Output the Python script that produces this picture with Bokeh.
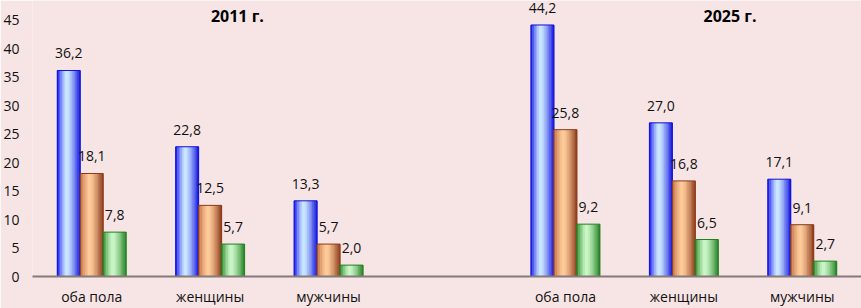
from bokeh.plotting import figure
from bokeh.models import Range1d, FixedTicker, ColumnDataSource
from bokeh.core.properties import value
from bokeh.embed import file_html
from bokeh.resources import INLINE

# ---- data ----
categories = ["оба пола", "женщины", "мужчины"]
years = ["2011 г.", "2025 г."]
series1_2011 = [36.2, 22.8, 13.3]   # blue
series2_2011 = [18.1, 12.5, 5.7]    # orange
series3_2011 = [7.8, 5.7, 2.0]      # green
series1_2025 = [44.2, 27.0, 17.1]
series2_2025 = [25.8, 16.8, 9.1]
series3_2025 = [9.2, 6.5, 2.7]
y_ticks = [0, 5, 10, 15, 20, 25, 30, 35, 40, 45]

data = {
    0: [series1_2011, series2_2011, series3_2011],
    1: [series1_2025, series2_2025, series3_2025],
}

# ---- style ----
BG = "#f7e5e5"
FONT = "Open Sans"
BAR_W = 0.194
OFFSETS = [-BAR_W, 0.0, BAR_W]
# (left dark, light, right dark, outline)
GRADS = [
    ((0x10, 0x10, 0xf0), (0xcc, 0xea, 0xff), (0x10, 0x10, 0xe0), "#1010d0"),
    ((0xc0, 0x6a, 0x40), (0xff, 0xcc, 0x9a), (0x8a, 0x38, 0x18), "#8a3a1a"),
    ((0x2a, 0x8a, 0x2a), (0xcc, 0xf8, 0xc8), (0x22, 0x80, 0x22), "#228022"),
]
N_STRIPS = 14
PEAK = 0.42

def lerp(a, b, t):
    return tuple(int(round(a[i] + (b[i] - a[i]) * t)) for i in range(3))

def hexc(c):
    return "#%02x%02x%02x" % c

p = figure(width=861, height=308, x_range=Range1d(0, 7), y_range=Range1d(0, 48.5),
           output_backend="svg", toolbar_location=None,
           min_border_left=32, min_border_right=0, min_border_top=0, min_border_bottom=30)
p.background_fill_color = BG
p.border_fill_color = BG
p.outline_line_color = None
p.xgrid.grid_line_color = None
p.ygrid.grid_line_color = None

# bars with simulated horizontal gradient
label_x, label_y, label_t = [], [], []
for yi in (0, 1):
    for si, vals in enumerate(data[yi]):
        ldark, light, rdark, outline = GRADS[si]
        centers = [yi * 4 + ci + 0.5 + OFFSETS[si] for ci in range(len(categories))]
        sw = BAR_W / N_STRIPS
        for k in range(N_STRIPS):
            pos = (k + 0.5) / N_STRIPS
            if pos < PEAK:
                t = (PEAK - pos) / PEAK
                col = lerp(light, ldark, t ** 1.4)
            else:
                t = (pos - PEAK) / (1 - PEAK)
                col = lerp(light, rdark, t ** 1.4)
            xs = [c - BAR_W / 2 + (k + 0.5) * sw for c in centers]
            p.vbar(x=xs, top=vals, bottom=0, width=sw * 1.25,
                   fill_color=hexc(col), line_color=None)
        p.vbar(x=centers, top=vals, bottom=0, width=BAR_W,
               fill_color=None, line_color=outline, line_width=1)
        label_x += centers
        label_y += vals
        label_t += [f"{v:.1f}".replace(".", ",") for v in vals]

src = ColumnDataSource(dict(x=label_x, y=label_y, t=label_t))
p.text(x="x", y="y", text="t", source=src, text_align="center", text_baseline="middle",
       y_offset=-17, text_font=value(FONT), text_font_size="14px", text_color="#111111")

# panel titles
TITLE_X = [1.73, 5.89]
p.text(x=TITLE_X, y=[45.7, 45.7], text=years, text_align="center", text_baseline="middle",
       text_font=value(FONT), text_font_style="bold", text_font_size="16px",
       text_color="#000000")

# axes
cat_pos = [yi * 4 + ci + 0.5 for yi in (0, 1) for ci in range(len(categories))]
p.xaxis.ticker = FixedTicker(ticks=cat_pos)
p.xaxis.major_label_overrides = {pos: categories[i % 3] for i, pos in enumerate(cat_pos)}
p.xaxis.major_tick_line_color = None
p.xaxis.minor_tick_line_color = None
p.xaxis.major_tick_out = 0
p.xaxis.major_tick_in = 0
p.xaxis.minor_tick_out = 0
p.xaxis.axis_line_color = "#857a7a"
p.xaxis.axis_line_width = 2
p.xaxis.major_label_standoff = 10
p.xaxis.major_label_text_font = FONT
p.xaxis.major_label_text_font_size = "14px"
p.xaxis.major_label_text_color = "#111111"

p.yaxis.ticker = FixedTicker(ticks=y_ticks)
p.yaxis.axis_line_color = None
p.yaxis.major_tick_line_color = None
p.yaxis.minor_tick_line_color = None
p.yaxis.major_tick_out = 0
p.yaxis.major_tick_in = 0
p.yaxis.minor_tick_out = 0
p.yaxis.major_label_standoff = 13
p.yaxis.major_label_text_font = FONT
p.yaxis.major_label_text_font_size = "14px"
p.yaxis.major_label_text_color = "#111111"

open("out.html", "w").write(file_html(p, INLINE))
